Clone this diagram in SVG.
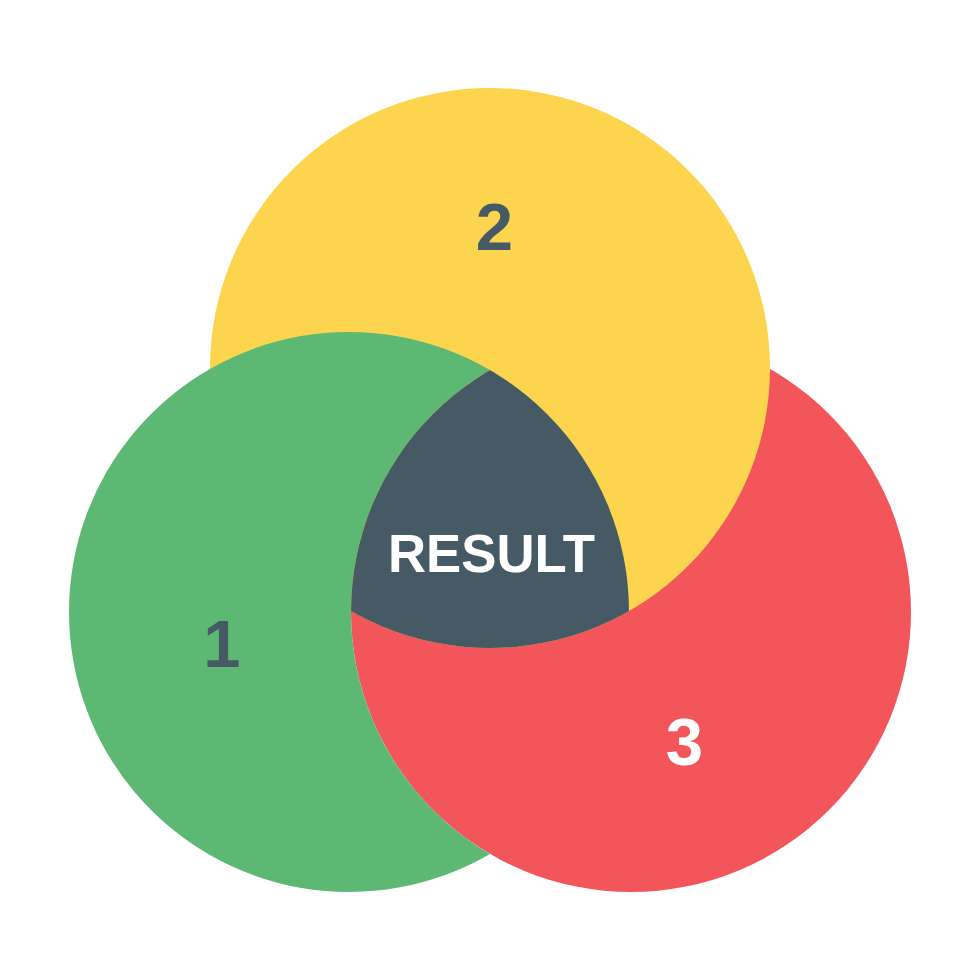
<svg xmlns="http://www.w3.org/2000/svg" width="980" height="980" viewBox="0 0 980 980">
<defs>
<style>
.lbl{font-family:"Liberation Sans",Arial,sans-serif;font-weight:bold;text-anchor:middle}
.num{font-size:67px}
.dark{fill:#465A66}
.white{fill:#FFFFFF}
</style>
<clipPath id="clipGreen"><circle cx="349" cy="612" r="280"/></clipPath>
<clipPath id="clipRed"><circle cx="631" cy="612" r="280"/></clipPath>
</defs>
<rect width="980" height="980" fill="#FFFFFF"/>
<g id="circle3"><circle cx="631" cy="612" r="280" fill="#F2565A"/></g>
<g id="circle2"><circle cx="490" cy="368" r="280" fill="#FDD44E"/></g>
<g id="circle1"><path d="M 490 370.1 A 280 280 0 1 0 490 853.9 A 280 280 0 0 1 490 370.1 Z" fill="#5DB873"/></g>
<g id="result-region" clip-path="url(#clipGreen)"><circle cx="490" cy="368" r="280" fill="#465A66" clip-path="url(#clipRed)"/></g>
<g id="labels">
<text class="lbl num dark" x="494.5" y="250">2</text>
<text class="lbl num dark" x="222" y="667">1</text>
<text class="lbl num white" x="684.5" y="765">3</text>
<text class="lbl white" x="491.5" y="572" font-size="54" textLength="207" lengthAdjust="spacingAndGlyphs">RESULT</text>
</g>
<g id="connectors"/>
</svg>
